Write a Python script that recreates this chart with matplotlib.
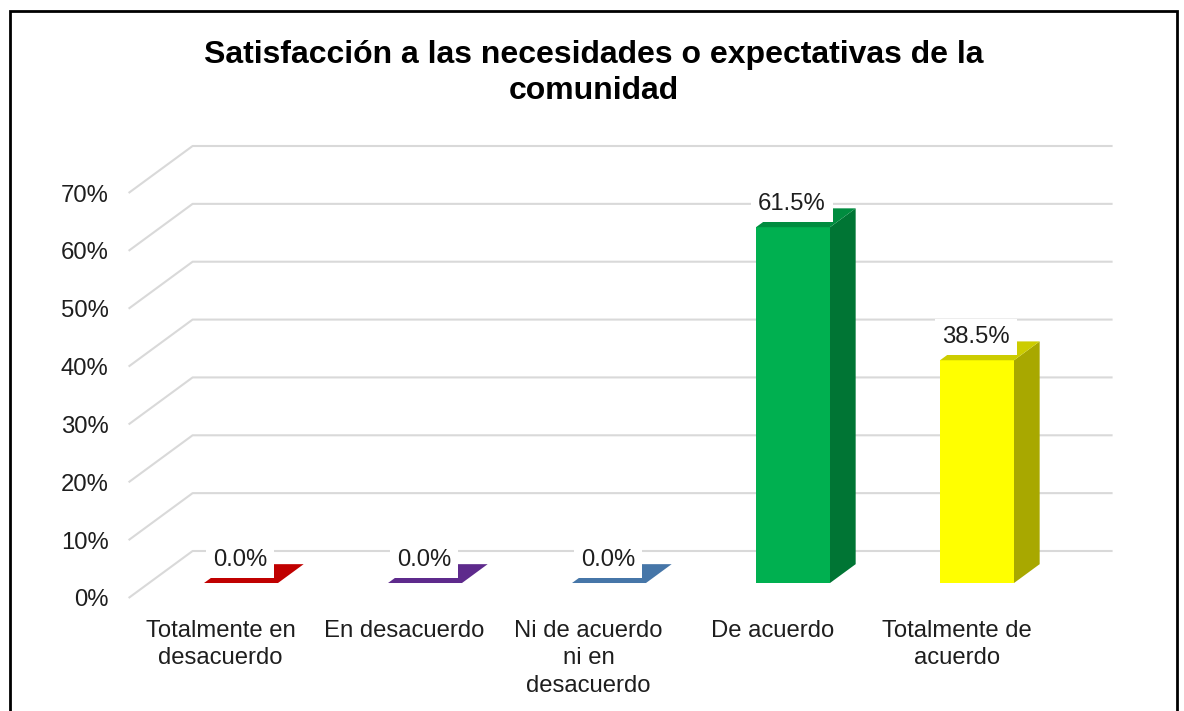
import matplotlib
matplotlib.use("Agg")
import matplotlib.pyplot as plt
from matplotlib.patches import Rectangle
import numpy as np

# ---------------- data ----------------
categories = ["Totalmente en\ndesacuerdo", "En desacuerdo",
              "Ni de acuerdo\nni en\ndesacuerdo", "De acuerdo",
              "Totalmente de\nacuerdo"]
values = [0.0, 0.0, 0.0, 61.5, 38.5]
value_labels = ["0.0%", "0.0%", "0.0%", "61.5%", "38.5%"]
y_ticks = [0, 10, 20, 30, 40, 50, 60, 70]
y_tick_labels = ["0%", "10%", "20%", "30%", "40%", "50%", "60%", "70%"]
title = "Satisfacción a las necesidades o expectativas de la\ncomunidad"

front_colors = ["#C00000", "#7030A0", "#4A7EBB", "#00B050", "#FFFF00"]
top_colors = ["#C00000", "#5E2A8C", "#4676A8", "#008C3F", "#CCCC00"]
side_colors = ["#A00000", "#4F2377", "#3B6490", "#007534", "#A8A800"]

plt.rcParams["font.family"] = ["Liberation Sans", "DejaVu Sans"]

W, H = 1184, 711
fig = plt.figure(figsize=(W / 100, H / 100), dpi=100)
fig.patch.set_facecolor("white")

ax_left, ax_w = 128.6, 920.0
ax_bottom_px, ax_h = 598.0, 405.0
ax = fig.add_axes([ax_left / W, (H - ax_bottom_px) / H, ax_w / W, ax_h / H])
ax.set_xlim(-0.5, 4.5)
ax.set_ylim(0, 70)
ax.patch.set_alpha(0)
for s in ax.spines.values():
    s.set_visible(False)

# oblique depth vector (full wall depth) in data units
px_per_x = ax_w / 5.0
px_per_y = ax_h / 70.0
DX = 64.0 / px_per_x
DY = 47.0 / px_per_y

grid_c = "#D9D9D9"
x0, x1 = -0.5, 4.5
for v in y_ticks:
    ax.plot([x0, x0 + DX, x1 + DX], [v, v + DY, v + DY], color=grid_c,
            lw=1.5, clip_on=False, zorder=1, solid_capstyle="butt")

FS = 17.2
txt_c = "#1E1E1E"

# bars
d0, d1 = 0.319, 0.72
bw = 0.402
xs = np.arange(len(categories))
for i, v in enumerate(values):
    xc = xs[i] + d0 * DX
    xl, xr = xc - bw / 2, xc + bw / 2
    b0, b1 = d0 * DY, d1 * DY
    if v > 0:
        ax.bar([xc], [v], width=bw, bottom=b0, color=front_colors[i],
               zorder=3, clip_on=False, linewidth=0)
        ax.fill([xr, xr + (d1 - d0) * DX, xr + (d1 - d0) * DX, xr],
                [b0, b1, v + b1, v + b0], color=side_colors[i], zorder=3,
                clip_on=False, lw=0)
    ax.fill([xl, xr, xr + (d1 - d0) * DX, xl + (d1 - d0) * DX],
            [v + b0, v + b0, v + b1, v + b1], color=top_colors[i], zorder=3,
            clip_on=False, lw=0)
    ax.annotate(value_labels[i], xy=(xc, v + b0), xytext=(-1, 23),
                textcoords="offset pixels", ha="center", va="center",
                fontsize=FS, color=txt_c, zorder=6,
                bbox=dict(boxstyle="square,pad=0.3", fc="white", ec="none"),
                annotation_clip=False)

ax.set_yticks(y_ticks)
ax.set_yticklabels(y_tick_labels, fontsize=FS, color=txt_c)
ax.set_xticks(xs)
ax.set_xticklabels(categories, fontsize=FS, color=txt_c, linespacing=1.33)
ax.tick_params(axis="y", length=0, pad=14.5)
ax.tick_params(axis="x", length=0, pad=15.5)

fig.text(594 / W, 1 - 73 / H, title, ha="center", va="center",
         fontsize=23.0, fontweight="bold", color="black", linespacing=1.3,
         multialignment="center")

# outer frame
fig.add_artist(Rectangle((10 / W, -0.05), (1177 - 10) / W, (H - 11) / H + 0.05,
                         transform=fig.transFigure, fill=False, ec="black",
                         lw=2.0, zorder=10))

fig.savefig("out.png", dpi=100, facecolor="white")
